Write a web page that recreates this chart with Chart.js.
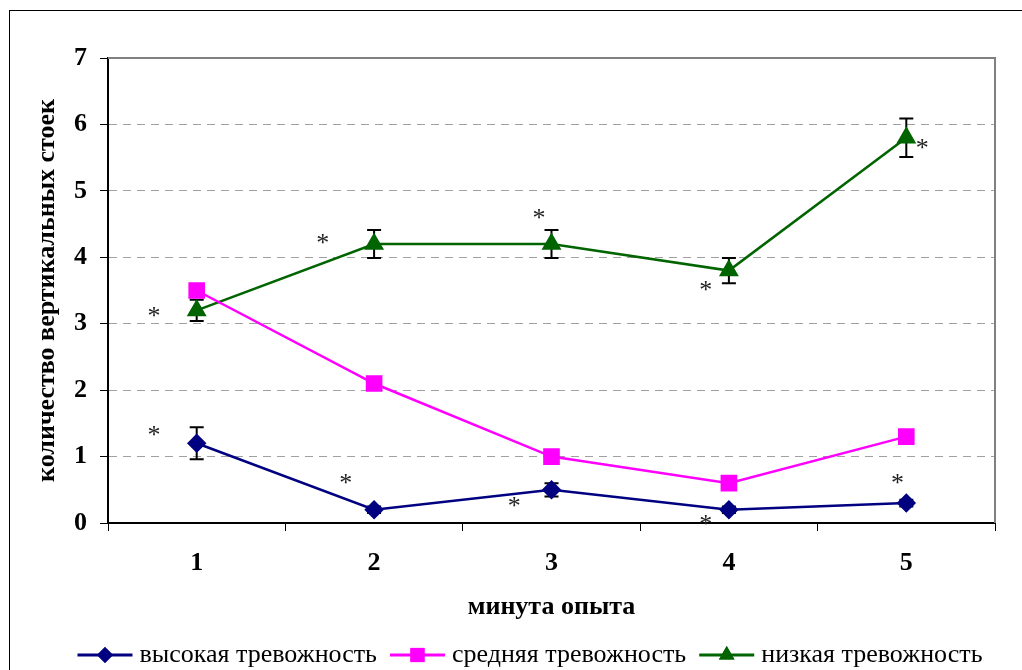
<!DOCTYPE html>
<html>
<head>
<meta charset="utf-8">
<script src="https://cdn.jsdelivr.net/npm/chart.js@4.4.1/dist/chart.umd.min.js"></script>
<style>
  html, body { margin: 0; padding: 0; background: #fff; }
  #wrap { position: relative; width: 1022px; height: 670px; }
</style>
</head>
<body>
<div id="wrap"><canvas id="graphic" width="1022" height="670"></canvas></div>
<script>
// Data
const minutes = ['1', '2', '3', '4', '5'];
const yTicks = [0, 1, 2, 3, 4, 5, 6, 7];

const highLabel = 'высокая тревожность';
const highValues = [1.2, 0.2, 0.5, 0.2, 0.3];
const highErrors = [0.24, 0.05, 0.1, 0.05, 0.05];

const midLabel = 'средняя тревожность';
const midValues = [3.5, 2.1, 1.0, 0.6, 1.3];
const midErrors = [0, 0, 0, 0, 0];

const lowLabel = 'низкая тревожность';
const lowValues = [3.2, 4.2, 4.2, 3.8, 5.8];
const lowErrors = [0.16, 0.21, 0.21, 0.19, 0.29];

// asterisks: category index (with offset) and value
const starX = [-0.24, -0.24, 0.71, 0.84, 1.93, 1.79, 2.87, 2.87, 4.09, 3.95];
const starY = [3.16, 1.37, 4.26, 0.65, 4.64, 0.30, 3.55, 0.02, 5.69, 0.65];

const serif = '"Liberation Serif", "Times New Roman", serif';

// Error bars
const errorBars = {
  id: 'errorBars',
  beforeDatasetsDraw(chart) {
    const ctx = chart.ctx;
    const yScale = chart.scales.y;
    ctx.save();
    ctx.strokeStyle = '#000';
    ctx.lineWidth = 2;
    chart.data.datasets.forEach((ds, i) => {
      const meta = chart.getDatasetMeta(i);
      meta.data.forEach((pt, j) => {
        const err = ds.errors[j];
        if (!err) return;
        const top = yScale.getPixelForValue(ds.data[j] + err);
        const bot = yScale.getPixelForValue(ds.data[j] - err);
        ctx.beginPath();
        ctx.moveTo(pt.x, top);
        ctx.lineTo(pt.x, bot);
        ctx.moveTo(pt.x - 7, top);
        ctx.lineTo(pt.x + 7, top);
        ctx.moveTo(pt.x - 7, bot);
        ctx.lineTo(pt.x + 7, bot);
        ctx.stroke();
      });
    });
    ctx.restore();
  }
};

// Frame, plot border, asterisks and legend
const decorations = {
  id: 'decorations',
  beforeDraw(chart) {
    const ctx = chart.ctx;
    ctx.save();
    ctx.strokeStyle = '#000';
    ctx.lineWidth = 1;
    ctx.strokeRect(9.5, 10.5, 1040, 700);
    ctx.restore();
  },
  afterDraw(chart) {
    const ctx = chart.ctx;
    const area = chart.chartArea;
    const xs = chart.scales.x;
    const ys = chart.scales.y;

    // top and right plot border
    ctx.save();
    ctx.strokeStyle = '#808080';
    ctx.lineWidth = 2;
    ctx.beginPath();
    ctx.moveTo(area.left, area.top);
    ctx.lineTo(area.right, area.top);
    ctx.lineTo(area.right, area.bottom);
    ctx.stroke();

    // asterisks
    ctx.fillStyle = '#222';
    ctx.font = '26px ' + serif;
    ctx.textAlign = 'center';
    ctx.textBaseline = 'middle';
    const step = xs.getPixelForValue(1) - xs.getPixelForValue(0);
    for (let i = 0; i < starX.length; i++) {
      const px = xs.getPixelForValue(0) + starX[i] * step;
      const py = ys.getPixelForValue(starY[i]);
      ctx.fillText('*', px, py + 4);
    }

    // legend
    ctx.font = '26px ' + serif;
    ctx.textAlign = 'left';
    ctx.fillStyle = '#000';
    const lineLen = 55, gapText = 7, gapItem = 13;
    const items = chart.data.datasets.map((ds) => ({ ds, w: ctx.measureText(ds.label).width }));
    let total = 0;
    items.forEach((it, i) => { total += lineLen + gapText + it.w + (i ? gapItem : 0); });
    let x = 530 - total / 2;
    const ly = 655;
    items.forEach((it) => {
      const ds = it.ds;
      ctx.strokeStyle = ds.borderColor;
      ctx.lineWidth = 3;
      ctx.beginPath();
      ctx.moveTo(x, ly);
      ctx.lineTo(x + lineLen, ly);
      ctx.stroke();
      ctx.fillStyle = ds.pointBackgroundColor;
      Chart.helpers.drawPoint(ctx, { pointStyle: ds.pointStyle, radius: ds.pointRadius, borderWidth: 0, rotation: 0 }, x + lineLen / 2, ly);
      ctx.fill();
      ctx.fillStyle = '#000';
      ctx.fillText(ds.label, x + lineLen + gapText, ly);
      x += lineLen + gapText + it.w + gapItem;
    });
    ctx.restore();
  }
};

const data = document.querySelector('#graphic');

new Chart(data, {
  type: 'line',
  data: {
    labels: minutes,
    datasets: [{
      label: highLabel,
      data: highValues,
      errors: highErrors,
      borderColor: '#000080',
      backgroundColor: '#000080',
      pointBackgroundColor: '#000080',
      pointBorderColor: '#000080',
      pointStyle: 'rectRot',
      pointRadius: 8,
      borderWidth: 2.5
    },
    {
      label: midLabel,
      data: midValues,
      errors: midErrors,
      borderColor: '#ff00ff',
      backgroundColor: '#ff00ff',
      pointBackgroundColor: '#ff00ff',
      pointBorderColor: '#ff00ff',
      pointStyle: 'rect',
      pointRadius: 10,
      borderWidth: 2.5
    },
    {
      label: lowLabel,
      data: lowValues,
      errors: lowErrors,
      borderColor: '#006400',
      backgroundColor: '#006400',
      pointBackgroundColor: '#006400',
      pointBorderColor: '#006400',
      pointStyle: 'triangle',
      pointRadius: 9,
      borderWidth: 2.5
    }]
  },
  options: {
    responsive: false,
    animation: false,
    layout: { padding: { left: 0, top: 58, right: 27, bottom: 37 } },
    plugins: {
      legend: { display: false },
      tooltip: { enabled: false }
    },
    elements: { line: { tension: 0 }, point: { borderWidth: 0 } },
    scales: {
      x: {
        offset: true,
        grid: { offset: true, drawOnChartArea: false, drawTicks: true, tickLength: 8, color: '#000', lineWidth: 1 },
        border: { display: true, color: '#000', width: 2 },
        ticks: { color: '#000', font: { family: serif, size: 26, weight: 'bold' }, padding: 17 },
        title: { display: true, text: 'минута опыта', color: '#000', font: { family: serif, size: 26, weight: 'bold' }, padding: { top: 0, bottom: 10 } },
        afterFit(scale) { scale.height = 110; }
      },
      y: {
        min: 0,
        max: 7,
        afterBuildTicks(scale) { scale.ticks = yTicks.map((v) => ({ value: v })); },
        grid: { color: '#a0a0a0', tickColor: '#000', tickLength: 8, lineWidth: 1 },
        border: { display: true, color: '#000', width: 2, dash: [8, 6] },
        ticks: { color: '#000', font: { family: serif, size: 26, weight: 'bold' }, padding: 13 },
        title: { display: true, text: 'количество вертикальных стоек', color: '#000', font: { family: serif, size: 26, weight: 'bold' }, padding: { top: 32, bottom: 0 } },
        afterFit(scale) { scale.width = 108; }
      }
    }
  },
  plugins: [errorBars, decorations]
});
</script>
</body>
</html>
